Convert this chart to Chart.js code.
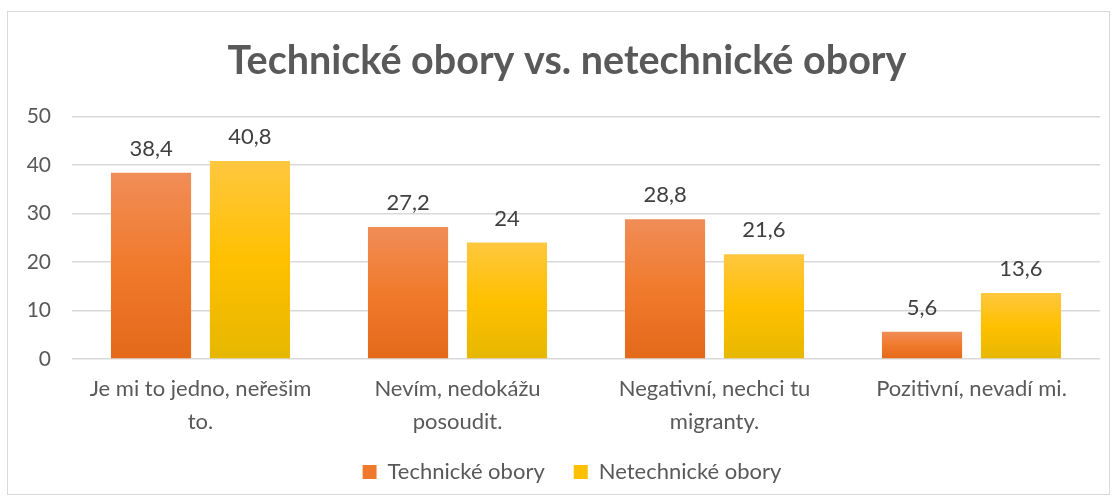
<!DOCTYPE html>
<html>
<head>
<meta charset="utf-8">
<script src="https://cdn.jsdelivr.net/npm/chart.js@4.4.0/dist/chart.umd.min.js"></script>
<style>
  html, body { margin: 0; padding: 0; background: #fff; }
  #wrap { position: relative; width: 1117px; height: 501px; }
  #frame { position: absolute; left: 7px; top: 11px; width: 1101px; height: 482px; border: 1px solid #d9d9d9; }
  canvas { position: absolute; left: 0; top: 0; }
</style>
</head>
<body>
<div id="wrap">
  <div id="frame"></div>
  <canvas id="chart" width="1117" height="501"></canvas>
</div>
<script>
const categories = [
    ["Je mi to jedno, neřešim", "to."],
    ["Nevím, nedokážu", "posoudit."],
    ["Negativní, nechci tu", "migranty."],
    "Pozitivní, nevadí mi."
];
const technicalValues = [38.4, 27.2, 28.8, 5.6];
const nonTechnicalValues = [40.8, 24, 21.6, 13.6];
const seriesNames = ["Technické obory", "Netechnické obory"];

const textColor = "#595959";
const fontFamily = "Lato, 'Open Sans', sans-serif";

// gradient per bar, from its top down to the zero line
function barGradient(stops) {
    return function (context) {
        const chart = context.chart;
        const yScale = chart.scales.y;
        if (!chart.chartArea || !yScale || context.raw === undefined) return stops[1];
        const top = yScale.getPixelForValue(context.raw);
        const base = yScale.getPixelForValue(0);
        const g = chart.ctx.createLinearGradient(0, top, 0, base);
        g.addColorStop(0, stops[0]);
        g.addColorStop(0.5, stops[1]);
        g.addColorStop(1, stops[2]);
        return g;
    };
}

const orangeStops = ["#f08d57", "#f07a2c", "#e4691a"];
const yellowStops = ["#ffc73f", "#ffc000", "#e6b700"];

const valueLabels = {
    id: "valueLabels",
    afterDatasetsDraw(chart) {
        const ctx = chart.ctx;
        ctx.save();
        ctx.font = "22px " + fontFamily;
        ctx.fillStyle = "#404040";
        ctx.textAlign = "center";
        ctx.textBaseline = "middle";
        chart.data.datasets.forEach((ds, i) => {
            chart.getDatasetMeta(i).data.forEach((bar, j) => {
                const text = String(ds.data[j]).replace(".", ",");
                ctx.fillText(text, bar.x, bar.y - 24);
            });
        });
        ctx.restore();
    }
};

// title and legend sit a bit right of the canvas centre in the original
const nudgeBlocks = {
    id: "nudgeBlocks",
    afterLayout(chart) {
        if (chart.titleBlock) { chart.titleBlock.left += 11; chart.titleBlock.right += 11; }
        if (chart.legend) { chart.legend.left += 16; chart.legend.right += 16; }
    }
};

new Chart(document.getElementById("chart").getContext("2d"), {
    type: "bar",
    data: {
        labels: categories,
        datasets: [{
            label: seriesNames[0],
            data: technicalValues,
            backgroundColor: barGradient(orangeStops),
            barPercentage: 0.81,
            categoryPercentage: 0.77
        }, {
            label: seriesNames[1],
            data: nonTechnicalValues,
            backgroundColor: barGradient(yellowStops),
            barPercentage: 0.81,
            categoryPercentage: 0.77
        }]
    },
    options: {
        responsive: false,
        animation: false,
        layout: { padding: { left: 12, right: 17, top: 20, bottom: 8 } },
        plugins: {
            title: {
                display: true,
                text: "Technické obory vs. netechnické obory",
                color: textColor,
                font: { family: fontFamily, size: 39.5, weight: "bold" },
                padding: { top: 18, bottom: 31 }
            },
            legend: {
                position: "bottom",
                labels: {
                    color: textColor,
                    font: { family: fontFamily, size: 22 },
                    boxWidth: 14,
                    boxHeight: 14,
                    padding: 18,
                    generateLabels(chart) {
                        const items = Chart.defaults.plugins.legend.labels.generateLabels(chart);
                        items[0].fillStyle = orangeStops[1];
                        items[0].text += "\u2002"; // wider gap between the two items
                        items[1].fillStyle = yellowStops[1];
                        items.forEach(it => { it.strokeStyle = "rgba(0,0,0,0)"; it.lineWidth = 0; });
                        return items;
                    }
                }
            },
            tooltip: { enabled: false }
        },
        scales: {
            x: {
                grid: { display: false },
                border: { display: false },
                ticks: {
                    color: textColor,
                    font: { family: fontFamily, size: 22, lineHeight: 1.5 },
                    maxRotation: 0,
                    padding: 5
                }
            },
            y: {
                min: 0,
                max: 50,
                ticks: {
                    stepSize: 10,
                    color: textColor,
                    font: { family: fontFamily, size: 21 },
                    padding: 21
                },
                grid: { color: "#d9d9d9", lineWidth: 1.5, drawTicks: false },
                border: { display: false },
                afterFit(scale) { scale.width = 60; }
            }
        }
    },
    plugins: [valueLabels, nudgeBlocks]
});
</script>
</body>
</html>
